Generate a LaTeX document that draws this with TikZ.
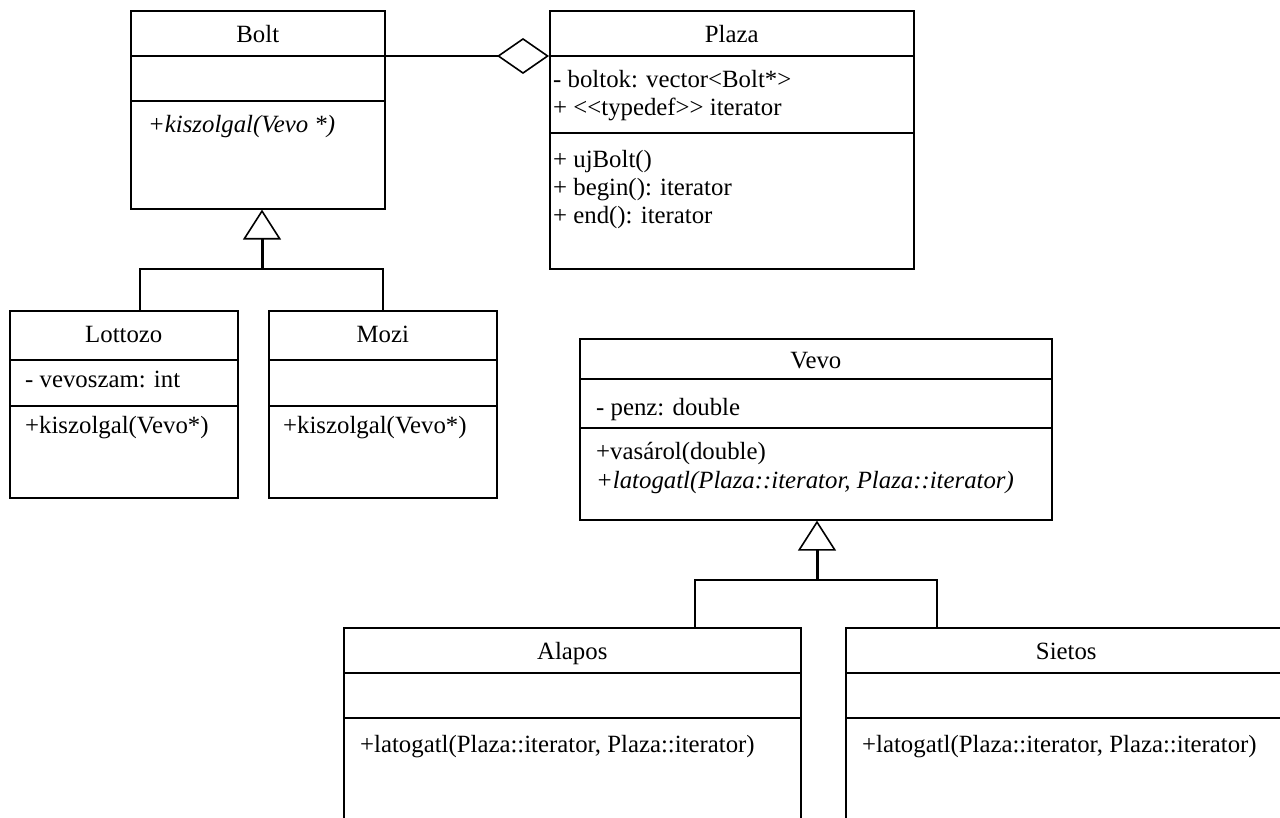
\documentclass[tikz,border=0pt]{standalone}
\usepackage{fontspec}
\setmainfont{Liberation Serif}
\usetikzlibrary{arrows.meta}

\tikzset{
	classbox/.style={draw, line width=1.6pt, anchor=north west, inner sep=0pt},
	member/.style={anchor=base west, inner sep=0pt},
	classname/.style={anchor=base, inner sep=0pt},
	part/.style={line width=1.6pt},
	link/.style={line width=1.6pt},
	stem/.style={line width=3pt},
}

\begin{document}
\begin{tikzpicture}[x=1pt, y=-1pt, every node/.style={font=\fontsize{24.8}{28}\selectfont}]
	\useasboundingbox (0,0) rectangle (1280,818);
	\clip (0,0) rectangle (1280,818);
	% classes
	\node[classbox, minimum width=254pt, minimum height=198pt] (bolt) at (130,10) {};
	\node[classbox, minimum width=364pt, minimum height=258pt] (plaza) at (549,10) {};
	\node[classbox, minimum width=228pt, minimum height=187pt] (lottozo) at (9,310) {};
	\node[classbox, minimum width=228pt, minimum height=187pt] (mozi) at (268,310) {};
	\node[classbox, minimum width=472pt, minimum height=181pt] (vevo) at (579,338) {};
	\node[classbox, minimum width=457pt, minimum height=250pt] (alapos) at (343,627) {};
	\node[classbox, minimum width=441pt, minimum height=250pt] (sietos) at (845,627) {};
	% compartments
	\draw[part] (bolt.west |- 0,56) -- (bolt.east |- 0,56);
	\draw[part] (bolt.west |- 0,101) -- (bolt.east |- 0,101);
	\draw[part] (plaza.west |- 0,56) -- (plaza.east |- 0,56);
	\draw[part] (plaza.west |- 0,133) -- (plaza.east |- 0,133);
	\draw[part] (lottozo.west |- 0,360) -- (lottozo.east |- 0,360);
	\draw[part] (lottozo.west |- 0,406) -- (lottozo.east |- 0,406);
	\draw[part] (mozi.west |- 0,360) -- (mozi.east |- 0,360);
	\draw[part] (mozi.west |- 0,406) -- (mozi.east |- 0,406);
	\draw[part] (vevo.west |- 0,379) -- (vevo.east |- 0,379);
	\draw[part] (vevo.west |- 0,428) -- (vevo.east |- 0,428);
	\draw[part] (alapos.west |- 0,673) -- (alapos.east |- 0,673);
	\draw[part] (alapos.west |- 0,718) -- (alapos.east |- 0,718);
	\draw[part] (sietos.west |- 0,673) -- (sietos.east |- 0,673);
	\draw[part] (sietos.west |- 0,718) -- (sietos.east |- 0,718);
	% names
	\node[classname] (boltname) at (bolt.north |- 0,43) {Bolt};
	\node[classname] (plazaname) at (plaza.north |- 0,43) {Plaza};
	\node[classname] (lottozoname) at (lottozo.north |- 0,342) {Lottozo};
	\node[classname] (moziname) at (mozi.north |- 0,342) {Mozi};
	\node[classname] (vevoname) at (vevo.north |- 0,369) {Vevo};
	\node[classname] (alaposname) at (alapos.north |- 0,659) {Alapos};
	\node[classname] (sietosname) at (sietos.north |- 0,659) {Sietos};
	% members
	\node[member] (boltm1) at (148,133) {\textit{+kiszolgal(Vevo *)}};
	\node[member] (plazaa1) at (553,88) {- boltok: vector<Bolt*>};
	\node[member] (plazaa2) at (553,116) {+ <\kern0pt<typedef>\kern0pt> iterator};
	\node[member] (plazam1) at (553,168) {+ ujBolt()};
	\node[member] (plazam2) at (553,196) {+ begin(): iterator};
	\node[member] (plazam3) at (553,224) {+ end(): iterator};
	\node[member] (lottozoa1) at (25,387) {- vevoszam: int};
	\node[member] (lottozom1) at (25,433) {+kiszolgal(Vevo*)};
	\node[member] (mozim1) at (283,433) {+kiszolgal(Vevo*)};
	\node[member] (vevoa1) at (596,415) {- penz: double};
	\node[member] (vevom1) at (596,459) {+vasárol(double)};
	\node[member] (vevom2) at (596,488) {\textit{+latogatl(Plaza::iterator, Plaza::iterator)}};
	\node[member] (alaposm1) at (360,752) {+latogatl(Plaza::iterator, Plaza::iterator)};
	\node[member] (sietosm1) at (862,752) {+latogatl(Plaza::iterator, Plaza::iterator)};
	% aggregation
	\draw[link, -{Diamond[open, length=52pt, width=36pt, line width=1.6pt]}] (bolt.east |- 0,56) -- (plaza.west |- 0,56);
	% inheritance
	\coordinate (boltbar) at (262,269);
	\draw[link] (lottozo.north -| 140,0) |- (boltbar) -| (mozi.north);
	\draw[stem, -{Triangle[open, length=30pt, width=38pt, line width=1.6pt]}] (boltbar) -- (boltbar |- bolt.south);
	\coordinate (vevobar) at (817,580);
	\draw[link] (alapos.north -| 695,0) |- (vevobar) -| (sietos.north -| 937,0);
	\draw[stem, -{Triangle[open, length=30pt, width=38pt, line width=1.6pt]}] (vevobar) -- (vevobar |- vevo.south);
\end{tikzpicture}
\end{document}
